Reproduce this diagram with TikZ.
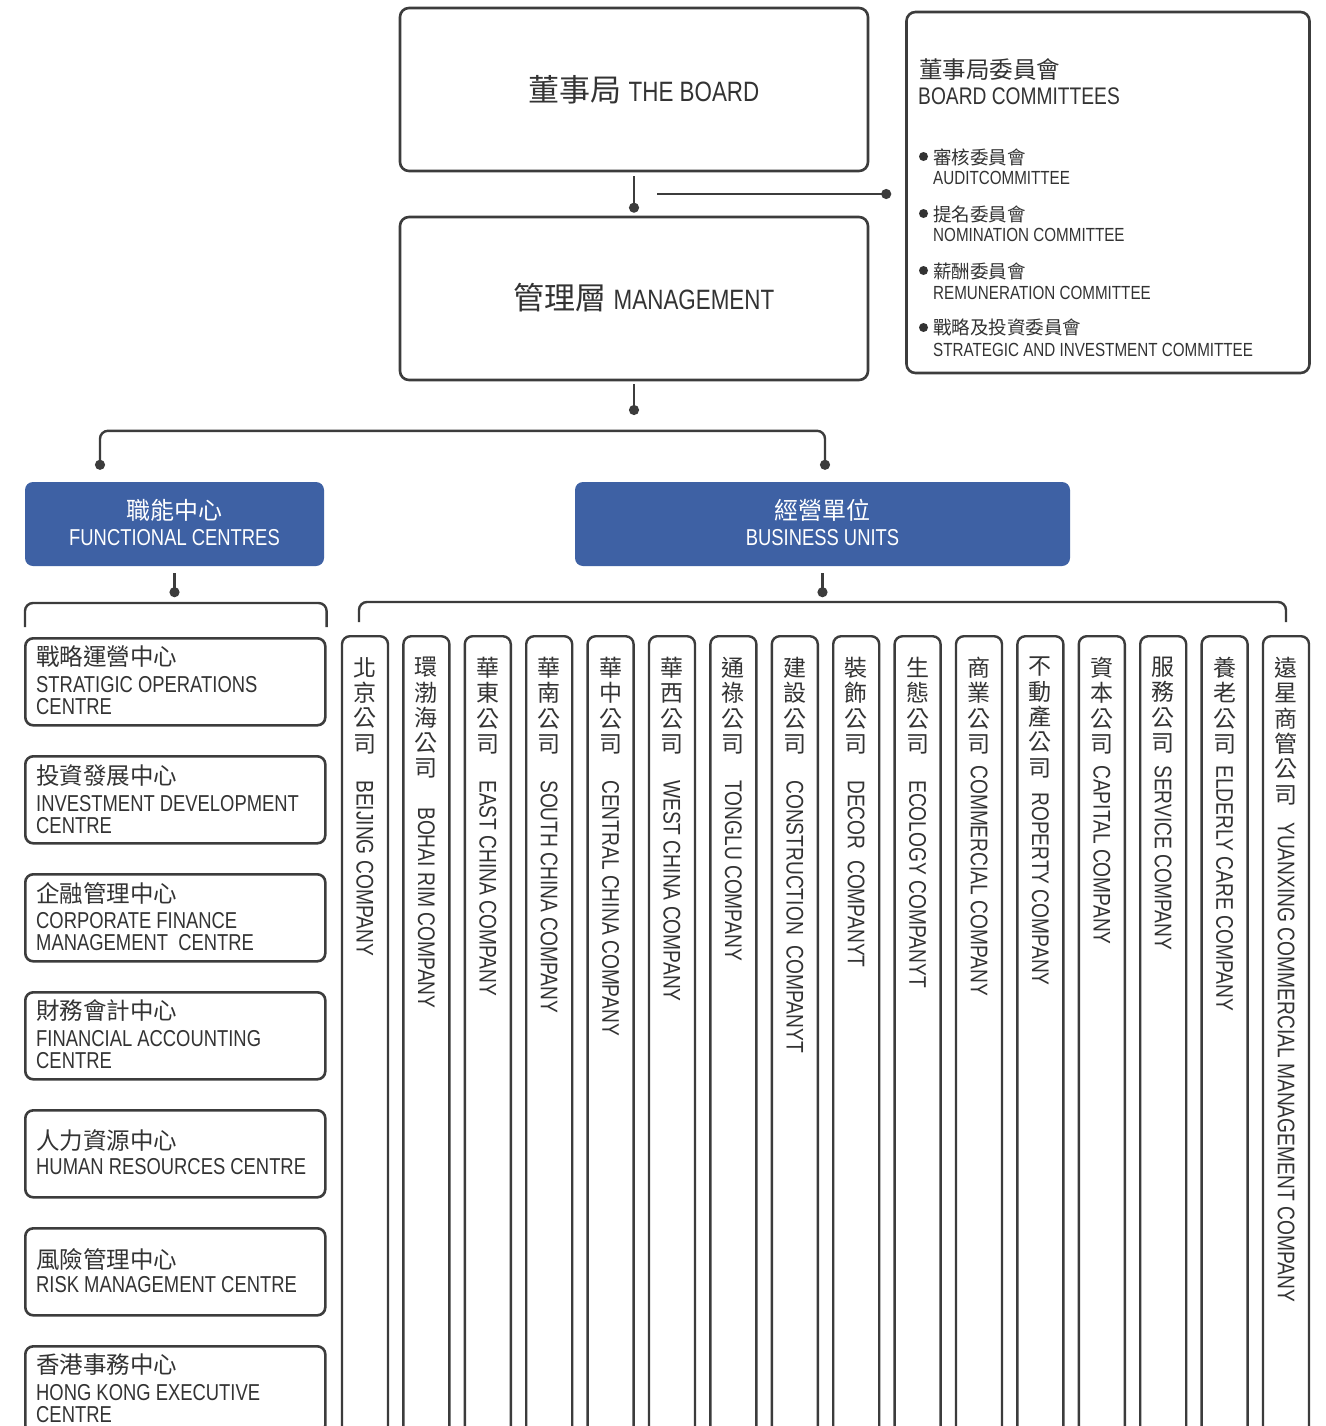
\documentclass[tikz,border=0pt]{standalone}
\usepackage{fontspec}
\setmainfont{Liberation Sans}[FakeStretch=0.8]
\newfontfamily\cjk{Noto Sans CJK TC}
\usetikzlibrary{arrows.meta,calc}
\definecolor{lc}{HTML}{3C3C3C}
\definecolor{tc}{HTML}{333333}
\definecolor{blu}{HTML}{3E61A4}
\newcommand\myfs[2]{\fontsize{#1}{#2}\selectfont}
\tikzset{
 conn/.style={draw=lc, line width=2.4pt},
 dotend/.style={-{Circle[length=10pt]}},
 dotboth/.style={{Circle[length=10pt]}-{Circle[length=10pt]}},
 bigbox/.style={draw=lc, line width=2.6pt, rounded corners=9pt, minimum width=468pt, minimum height=163pt, inner sep=0pt},
 commbox/.style={draw=lc, line width=2.6pt, rounded corners=9pt, minimum width=403pt, minimum height=361pt, inner sep=0pt},
 bluebox/.style={fill=blu, rounded corners=8pt, inner sep=0pt, minimum height=84pt},
 fcbox/.style={draw=lc, line width=2.6pt, rounded corners=8pt, minimum width=300pt, minimum height=87pt, inner sep=0pt, anchor=north west},
 colbox/.style={draw=lc, line width=2.4pt, rounded corners=8pt, minimum width=46pt, minimum height=860pt, inner sep=0pt, anchor=north},
 lbl/.style={inner sep=0pt, text=tc, anchor=west},
 wlbl/.style={inner sep=0pt, text=white, anchor=center},
}
\begin{document}
\begin{tikzpicture}[x=1pt,y=-1pt]
\path[use as bounding box] (0,0) rectangle (1325,1426);
\clip (0,0) rectangle (1325,1426);
\fill[white] (0,0) rectangle (1325,1426);

% top boxes
\node[bigbox] (board) at (634,89.5) {};
\node[lbl,anchor=center] (boardt) at (644,90) {{\cjk\myfs{31}{31}董事局}\hspace{7pt}{\myfs{28}{28}THE BOARD}};
\node[bigbox] (mgmt) at (634,298.5) {};
\node[lbl,anchor=center] (mgmtt) at (644,298) {{\cjk\myfs{31}{31}管理層}\hspace{7pt}{\myfs{28}{28}MANAGEMENT}};

% committees
\node[commbox] (comm) at (1108,192.5) {};
\node[lbl] (ct1) at (919,70) {\cjk\myfs{23.5}{23.5}董事局委員會};
\node[lbl] (ct2) at (918,96) {\myfs{24}{24}BOARD COMMITTEES};
\foreach \k/\cn/\en in {0/審核委員會/AUDITCOMMITTEE,1/提名委員會/NOMINATION COMMITTEE,2/薪酬委員會/REMUNERATION COMMITTEE,3/戰略及投資委員會/STRATEGIC AND INVESTMENT COMMITTEE}{
  \fill[tc] (923.5,156.5+57*\k) circle (4.5pt);
  \node[lbl] (cc\k) at (933,157+57*\k) {\cjk\myfs{18.5}{18.5}\cn};
  \node[lbl] (ce\k) at (933,177.5+57.5*\k) {\myfs{19}{19}\en};
}

% connectors at top
\draw[conn,dotend] ([yshift=-4pt]board.south) -- ([yshift=3pt]mgmt.north);
\coordinate (cs) at (657,194);
\draw[conn,dotend] (cs) -- ([xshift=-14pt]cs -| comm.west);
\coordinate (md) at (634,415);
\draw[conn,dotend] ([yshift=-3pt]mgmt.south) -- (md);

% blue boxes
\node[bluebox, minimum width=299pt] (fc) at (174.5,524) {};
\node[wlbl] (fct1) at (174.5,510) {\cjk\myfs{24}{24}職能中心};
\node[wlbl] (fct2) at (174.5,538) {\myfs{23}{23}FUNCTIONAL CENTRES};
\node[bluebox, minimum width=495pt] (bu) at (822.5,524) {};
\node[wlbl] (but1) at (822.5,510) {\cjk\myfs{24}{24}經營單位};
\node[wlbl] (but2) at (822.5,538) {\myfs{23}{23}BUSINESS UNITS};

\draw[conn,dotboth,rounded corners=8pt] ([xshift=-74.5pt,yshift=12pt]fc.north) |- ([xshift=2.5pt,yshift=51pt]bu.north) -- ([xshift=2.5pt,yshift=12pt]bu.north);

% functional centres
\foreach \i/\t/\cy/\ey/\cn/\en in {
 1/637/20/39/戰略運營中心/{STRATIGIC OPERATIONS\\CENTRE},
 2/755/21/40/投資發展中心/{INVESTMENT DEVELOPMENT\\CENTRE},
 3/873/20/39/企融管理中心/{CORPORATE FINANCE\\MANAGEMENT\ \ CENTRE},
 4/991/20/39/財務會計中心/{FINANCIAL ACCOUNTING\\CENTRE},
 5/1109/32/49/人力資源中心/{HUMAN RESOURCES CENTRE},
 6/1227/32/49/風險管理中心/{RISK MANAGEMENT CENTRE},
 7/1345/20/39/香港事務中心/{HONG KONG EXECUTIVE\\CENTRE}}{
  \node[fcbox] (f\i) at (24,\t) {};
  \node[lbl,font={\cjk\myfs{23.5}{23.5}}] (fc\i) at (36,\t+\cy) {\cn};
  \node[lbl,anchor=north west,align=left,font={\myfs{23}{22}}] (fe\i) at (36,\t+\ey) {\en};
}
\draw[conn,dotend] ([yshift=-7pt]fc.south) -- ([yshift=-31pt]fc.south);
\draw[conn,rounded corners=8pt] ([xshift=1pt,yshift=10pt]f1.north west) -- ([xshift=1pt,yshift=34pt]f1.north west) -- ([yshift=34pt]f1.north east) -- ([yshift=10pt]f1.north east);

% business unit columns
\foreach \i/\cn/\en/\ey in {
 1/{北\\京\\公\\司}/{BEIJING COMPANY}/780,
 2/{環\\渤\\海\\公\\司}/{BOHAI RIM COMPANY}/807,
 3/{華\\東\\公\\司}/{EAST CHINA COMPANY}/780,
 4/{華\\南\\公\\司}/{SOUTH CHINA COMPANY}/780,
 5/{華\\中\\公\\司}/{CENTRAL CHINA COMPANY}/780,
 6/{華\\西\\公\\司}/{WEST CHINA COMPANY}/780,
 7/{通\\祿\\公\\司}/{TONGLU COMPANY}/780,
 8/{建\\設\\公\\司}/{CONSTRUCTION\ \ COMPANYT}/780,
 9/{裝\\飾\\公\\司}/{DECOR\ \ COMPANYT}/780,
 10/{生\\態\\公\\司}/{ECOLOGY COMPANYT}/780,
 11/{商\\業\\公\\司}/{COMMERCIAL COMPANY}/765,
 12/{不\\動\\產\\公\\司}/{ROPERTY COMPANY}/792,
 13/{資\\本\\公\\司}/{CAPITAL COMPANY}/765,
 14/{服\\務\\公\\司}/{SERVICE COMPANY}/765,
 15/{養\\老\\公\\司}/{ELDERLY CARE COMPANY}/765,
 16/{遠\\星\\商\\管\\公\\司}/{YUANXING COMMERCIAL MANAGEMENT COMPANY}/822}{
  \node[colbox] (c\i) at (365+61.4*\i-61.4,635) {};
  \node[lbl,anchor=north,align=center,font={\cjk\myfs{23}{25.3}}] (cn\i) at (365+61.4*\i-61.4,657) {\cn};
  \node[lbl,rotate=-90,font={\myfs{24}{24}}] (en\i) at (365+61.4*\i-61.4,\ey) {\en};
}
\draw[conn,dotend] ([yshift=-7pt]bu.south) -- ([yshift=-31pt]bu.south);
\draw[conn,rounded corners=8pt] ([xshift=-6pt,yshift=13pt]c1.north) -- ([xshift=-6pt,yshift=33pt]c1.north) -- ([yshift=33pt]c16.north) -- ([yshift=13pt]c16.north);
\end{tikzpicture}
\end{document}
